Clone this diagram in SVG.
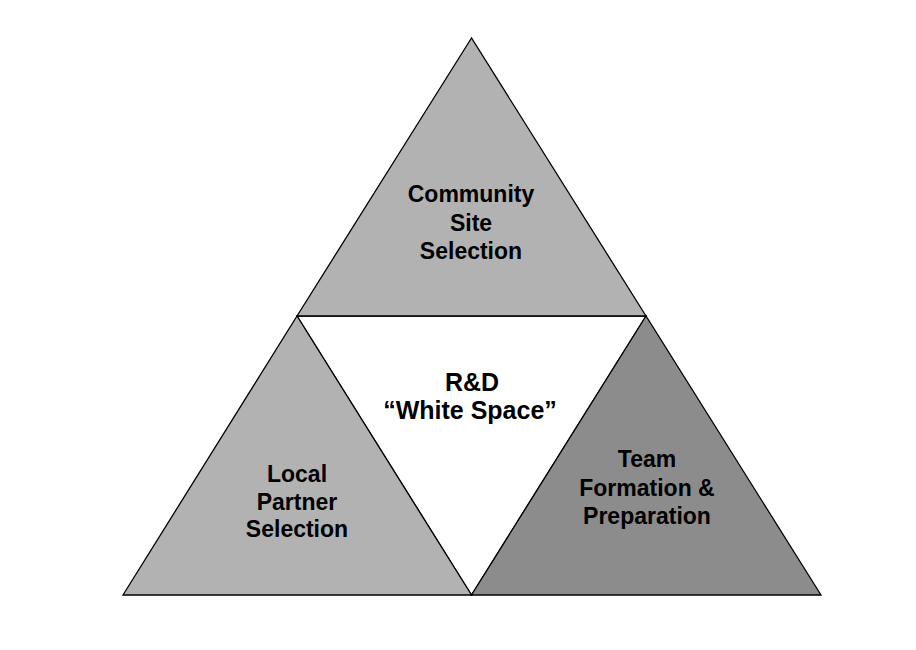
<svg xmlns="http://www.w3.org/2000/svg" width="916" height="650" viewBox="0 0 916 650">
<style>
.tri{stroke:#000;stroke-width:1.3;stroke-linejoin:miter}
.light{fill:#b2b2b2}
.dark{fill:#8c8c8c}
.white{fill:#ffffff}
text{font-family:"Liberation Sans",Arial,sans-serif;font-weight:bold;font-size:23px;fill:#000;text-anchor:middle}
.big{font-size:25px}
</style>
<rect width="916" height="650" fill="#ffffff"/>
<g id="center">
<polygon class="tri white" points="297,316 646,316 471.5,595"/>
<text class="big" x="472" y="391">R&amp;D</text>
<text class="big" x="470" y="419">“White Space”</text>
</g>
<g id="top">
<polygon class="tri light" points="471.5,38 297,316 646,316"/>
<text x="471" y="202">Community</text>
<text x="471" y="231">Site</text>
<text x="471" y="259">Selection</text>
</g>
<g id="left">
<polygon class="tri light" points="297,316 123,595 471.5,595"/>
<text x="297" y="482">Local</text>
<text x="297" y="510">Partner</text>
<text x="297" y="537">Selection</text>
</g>
<g id="right">
<polygon class="tri dark" points="646,316 471.5,595 821,595"/>
<text x="647" y="467">Team</text>
<text x="647" y="496">Formation &amp;</text>
<text x="647" y="524">Preparation</text>
</g>
<g id="connectors"></g>
</svg>
